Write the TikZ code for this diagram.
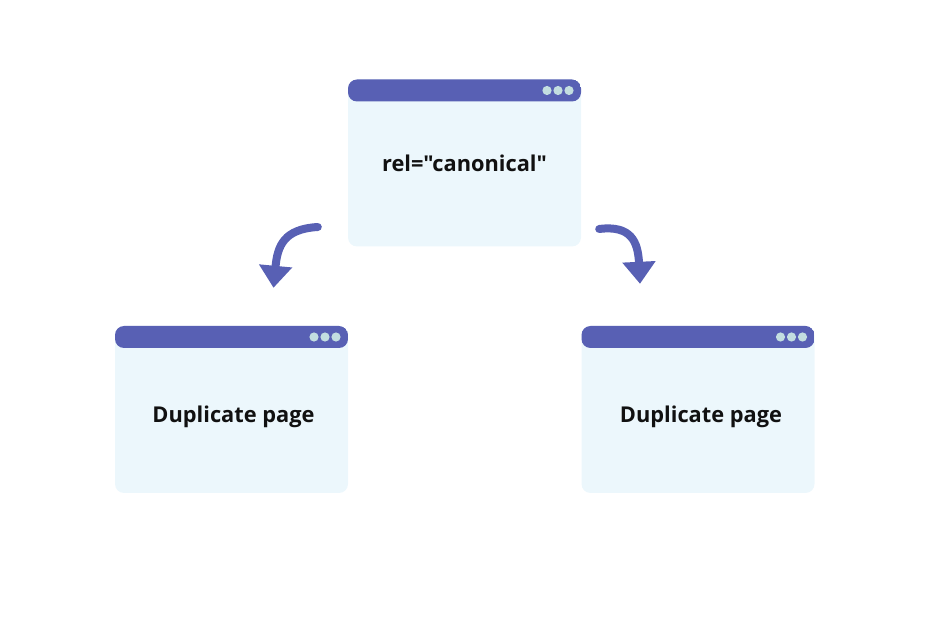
\documentclass[tikz,border=0pt]{standalone}
\usepackage{fontspec}
\setmainfont{Open Sans}[Ligatures=TeXOff]
\usetikzlibrary{arrows.meta,calc}
\definecolor{Bar}{HTML}{5860B4}
\definecolor{Pane}{HTML}{ECF7FC}
\definecolor{Dot}{HTML}{C3DEE0}
\definecolor{Ink}{HTML}{111111}

\begin{document}
\begin{tikzpicture}[x=1pt,y=-1pt,
    window/.style={rounded corners=9pt,fill=Pane,minimum width=233pt,
      minimum height=167pt,inner sep=0pt,
      path picture={
        \fill[Bar] (path picture bounding box.north west) rectangle
          ([yshift=-22pt]path picture bounding box.north east);
        \foreach \dx in {34,23,12}
          \fill[Dot] ([xshift=-\dx pt,yshift=-11pt]path picture bounding box.north east)
            circle (4.6pt);
      }},
    caption/.style={font=\fontsize{21.8}{24}\selectfont\bfseries,text=Ink},
    curlyarrow/.style={Bar,line width=8pt,line cap=round,
      -{Triangle[length=22pt,width=32pt]}}]
        \useasboundingbox (0,0) rectangle (930,620);

        \node[window,caption] (canon) at (464.5,163) {rel="canonical"};
        \node[window,label={[caption,xshift=2pt,yshift=-7pt]center:Duplicate page}]
          (dupL) at (231.5,409.5) {};
        \node[window,label={[caption,xshift=3pt,yshift=-7pt]center:Duplicate page}]
          (dupR) at (698,409.5) {};

        \coordinate (tailL) at ($(canon.west)+(-30,64)$);
        \coordinate (tipL) at ($(dupL.north)+(42,-38)$);
        \coordinate (tailR) at ($(canon.east)+(18,66)$);
        \coordinate (tipR) at ($(dupR.north)+(-58,-42)$);

        \draw[curlyarrow] (tailL) .. controls ($(tailL)+(-34,2)$)
          and ($(tipL)+(4,-42)$) .. (tipL);
        \draw[curlyarrow] (tailR) .. controls ($(tailR)+(32,-4)$)
          and ($(tipR)+(-2,-42)$) .. (tipR);
      \end{tikzpicture}
\end{document}
